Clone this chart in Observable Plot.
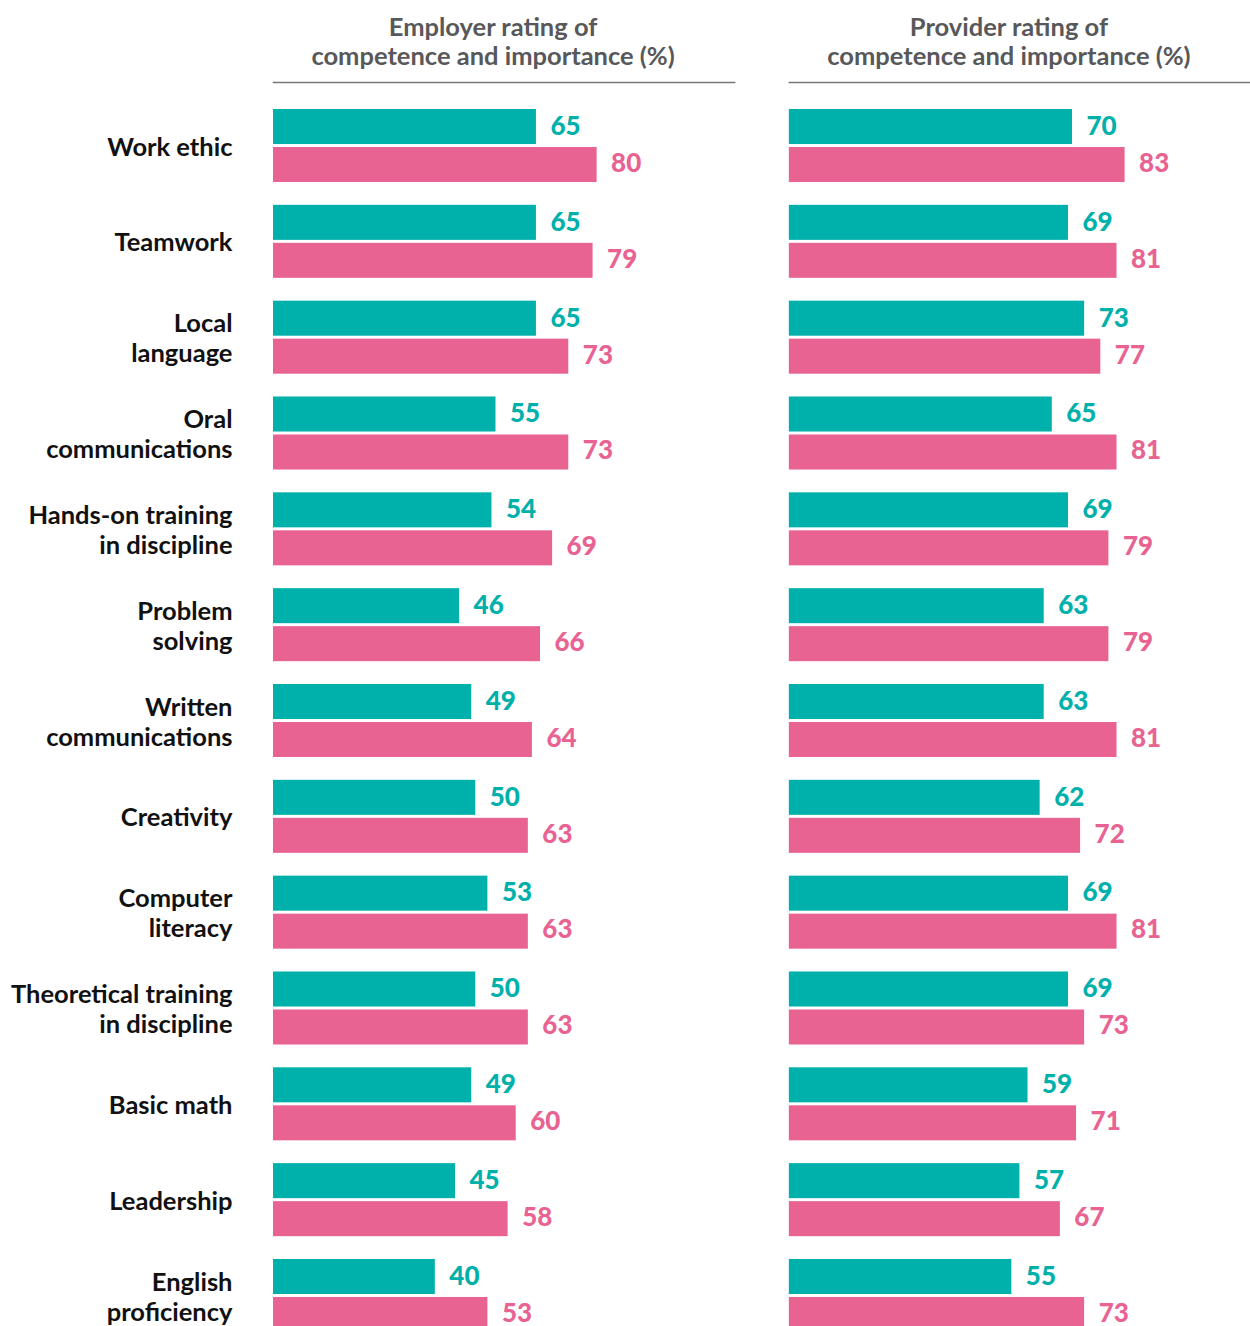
<!DOCTYPE html>
<html>
<head>
<meta charset="utf-8">
<script src="https://cdn.jsdelivr.net/npm/d3@7"></script>
<script src="https://cdn.jsdelivr.net/npm/@observablehq/plot@0.6"></script>
<style>
  html, body { margin: 0; padding: 0; background: #fff; }
  #chart svg { display: block; }
</style>
</head>
<body>
<div id="chart"></div>
<script>
const categories = [
  "Work ethic", "Teamwork", "Local\nlanguage", "Oral\ncommunications",
  "Hands-on training\nin discipline", "Problem\nsolving", "Written\ncommunications",
  "Creativity", "Computer\nliteracy", "Theoretical training\nin discipline",
  "Basic math", "Leadership", "English\nproficiency"
];
const panels = [
  "Employer rating of\ncompetence and importance (%)",
  "Provider rating of\ncompetence and importance (%)"
];
const employerCompetence = [65, 65, 65, 55, 54, 46, 49, 50, 53, 50, 49, 45, 40];
const employerImportance = [80, 79, 73, 73, 69, 66, 64, 63, 63, 63, 60, 58, 53];
const providerCompetence = [70, 69, 73, 65, 69, 63, 63, 62, 69, 69, 59, 57, 55];
const providerImportance = [83, 81, 77, 81, 79, 79, 81, 72, 81, 73, 71, 67, 73];

const teal = "#00b0aa";
const pink = "#e86392";

const competence = [
  ...categories.map((c, i) => ({panel: panels[0], category: c, value: employerCompetence[i]})),
  ...categories.map((c, i) => ({panel: panels[1], category: c, value: providerCompetence[i]}))
];
const importance = [
  ...categories.map((c, i) => ({panel: panels[0], category: c, value: employerImportance[i]})),
  ...categories.map((c, i) => ({panel: panels[1], category: c, value: providerImportance[i]}))
];

const chart = Plot.plot({
  width: 1250,
  height: 1326,
  marginLeft: 273,
  marginRight: 0,
  marginTop: 82,
  marginBottom: 0,
  style: {fontFamily: "Lato, 'Open Sans', sans-serif", background: "#fff"},
  fx: {domain: panels, padding: 0.106, round: false, axis: null},
  x: {domain: [0, 114], axis: null},
  y: {domain: categories, range: [109, 1332], paddingInner: 0.238, paddingOuter: 0, round: false, axis: null},
  marks: [
    Plot.frame({anchor: "top", stroke: "#777", strokeWidth: 1.5}),
    Plot.text(panels, {
      fx: d => d, text: d => d, frameAnchor: "top", lineAnchor: "middle", dy: -41, dx: -11,
      fontSize: 25.5, fontWeight: 700, fill: "#58585a", lineHeight: 1.11
    }),
    Plot.text(categories, {
      fx: () => panels[0], y: d => d, text: d => d, frameAnchor: "left", lineAnchor: "middle",
      textAnchor: "end", dx: -41, fontSize: 25.5, fontWeight: 700, fill: "#111", lineHeight: 1.18
    }),
    Plot.barX(competence, {fx: "panel", y: "category", x: "value", fill: teal, insetBottom: 38}),
    Plot.barX(importance, {fx: "panel", y: "category", x: "value", fill: pink, insetTop: 38}),
    Plot.text(competence, {
      fx: "panel", y: "category", x: "value", text: d => String(d.value),
      textAnchor: "start", dx: 14, dy: -19.5, fill: teal, fontSize: 26, fontWeight: 900
    }),
    Plot.text(importance, {
      fx: "panel", y: "category", x: "value", text: d => String(d.value),
      textAnchor: "start", dx: 14, dy: 17.5, fill: pink, fontSize: 26, fontWeight: 900
    })
  ]
});
document.getElementById("chart").appendChild(chart);
</script>
</body>
</html>
